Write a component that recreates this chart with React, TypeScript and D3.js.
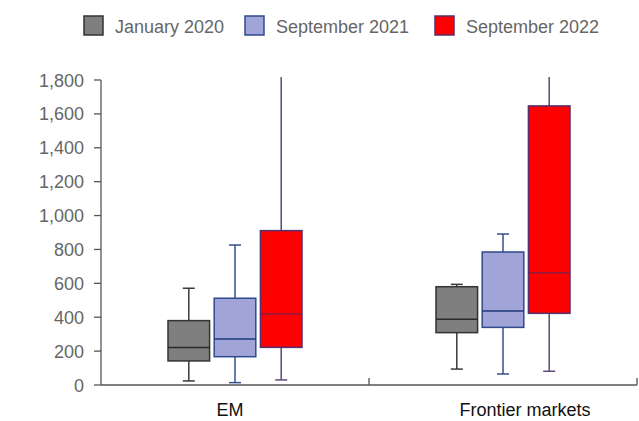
import React from "react";
import * as d3 from "d3";

const categories = ["EM", "Frontier markets"];
const seriesNames = ["January 2020", "September 2021", "September 2022"];
// per series, per category: [whiskerLow, q1, median, q3, whiskerHigh]
const jan2020 = [
  [24, 142, 222, 380, 571],
  [94, 309, 388, 580, 594],
];
const sep2021 = [
  [14, 167, 271, 512, 826],
  [65, 340, 437, 785, 891],
];
const sep2022 = [
  [30, 222, 419, 911, 2600],
  [81, 423, 663, 1647, 2600],
];
const yTicks = [0, 200, 400, 600, 800, 1000, 1200, 1400, 1600, 1800];

const seriesData = [jan2020, sep2021, sep2022];
const styles = [
  { fill: "#7f7f7f", stroke: "#333333", whisker: "#3a3a3a", median: "#2a2a2a" },
  { fill: "#a1a4d6", stroke: "#2e4a8e", whisker: "#33508f", median: "#1f3a78" },
  { fill: "#ff0000", stroke: "#55306a", whisker: "#5d4a76", median: "#8a1a40" },
];

const W = 639;
const H = 421;
const left = 101;
const right = 637;
const top = 80;
const bottom = 385;

export default function App() {
  const y = d3.scaleLinear().domain([0, 1800]).range([bottom, top]);
  const x = d3.scaleBand<string>().domain(categories).range([left, right]).padding(0);
  const inner = d3
    .scaleBand<string>()
    .domain(seriesNames)
    .range([-67, 67])
    .paddingInner(0.1)
    .paddingOuter(0);
  const bw = inner.bandwidth();
  const capW = 12;
  const fmt = d3.format(",");
  const labelOffsets = [-5, 22];
  const legendX = [84, 245, 435];

  return (
    <div style={{ position: "absolute", left: 0, top: 0 }}>
      <svg width={W} height={H} style={{ display: "block", fontFamily: "'Liberation Sans', Arial, sans-serif" }}>
        <defs>
          <clipPath id="plotclip">
            <rect x={left} y={77} width={right - left} height={bottom - 77 + 2} />
          </clipPath>
        </defs>
        {/* legend */}
        {seriesNames.map((s, i) => (
          <g key={s}>
            <rect x={legendX[i]} y={16} width={19} height={19} fill={styles[i].fill} stroke={styles[i].stroke} strokeWidth={1.5} />
            <text x={legendX[i] + 31} y={33} fontSize={18} fill="#666666">
              {s}
            </text>
          </g>
        ))}
        {/* y axis */}
        <line x1={left} x2={left} y1={top} y2={bottom} stroke="#555" strokeWidth={1.3} />
        {yTicks.map((t) => (
          <g key={t}>
            <line x1={left - 7} x2={left} y1={y(t)} y2={y(t)} stroke="#555" strokeWidth={1.3} />
            <text x={84} y={y(t) + 6.5} fontSize={18} textAnchor="end" fill="#666666">
              {fmt(t)}
            </text>
          </g>
        ))}
        {/* x axis */}
        <line x1={left} x2={right} y1={bottom} y2={bottom} stroke="#555" strokeWidth={1.3} />
        {categories.map((c) => (
          <line key={c} x1={(x(c) as number) + x.bandwidth()} x2={(x(c) as number) + x.bandwidth()} y1={bottom} y2={bottom - 7} stroke="#555" strokeWidth={1.3} />
        ))}
        {categories.map((c, ci) => (
          <text key={c} x={(x(c) as number) + x.bandwidth() / 2 + labelOffsets[ci]} y={416} fontSize={18} textAnchor="middle" fill="#111">
            {c}
          </text>
        ))}
        {/* boxes */}
        <g clipPath="url(#plotclip)">
          {categories.map((c, ci) => {
            const cx0 = (x(c) as number) + x.bandwidth() / 2;
            return seriesNames.map((s, si) => {
              const [lo, q1, med, q3, hi] = seriesData[si][ci];
              const bx = cx0 + (inner(s) as number);
              const cx = bx + bw / 2;
              const st = styles[si];
              return (
                <g key={c + s}>
                  <line x1={cx} x2={cx} y1={y(hi)} y2={y(q3)} stroke={st.whisker} strokeWidth={1.5} />
                  <line x1={cx} x2={cx} y1={y(q1)} y2={y(lo)} stroke={st.whisker} strokeWidth={1.5} />
                  <line x1={cx - capW / 2} x2={cx + capW / 2} y1={y(hi)} y2={y(hi)} stroke={st.whisker} strokeWidth={1.5} />
                  <line x1={cx - capW / 2} x2={cx + capW / 2} y1={y(lo)} y2={y(lo)} stroke={st.whisker} strokeWidth={1.5} />
                  <rect x={bx} y={y(q3)} width={bw} height={y(q1) - y(q3)} fill={st.fill} stroke={st.stroke} strokeWidth={1.5} />
                  <line x1={bx} x2={bx + bw} y1={y(med)} y2={y(med)} stroke={st.median} strokeWidth={1.5} />
                </g>
              );
            });
          })}
        </g>
      </svg>
    </div>
  );
}
